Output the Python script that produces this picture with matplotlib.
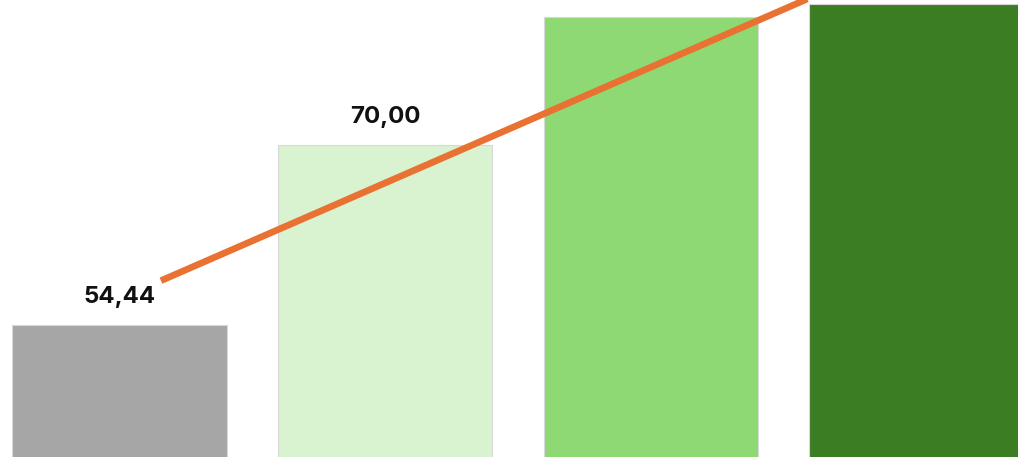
import matplotlib
matplotlib.use("Agg")
import matplotlib.pyplot as plt

categories = ["A", "B", "C", "D"]
values = [54.44, 70.00, 81.07, 82.16]
labels = ["54,44", "70,00", "81,07", "82,16"]
bar_colors = ["#A6A6A6", "#D9F2D0", "#8ED973", "#3B7D23"]
line_x = [0.156, 2.60]
line_y = [58.27, 82.73]

fig = plt.figure(figsize=(10.18, 4.57), dpi=100)
ax = fig.add_axes([0, 0, 1, 1])
x = list(range(len(categories)))
ax.bar(x, values, width=0.807, color=bar_colors, edgecolor="#d8d8d8", linewidth=0.8, zorder=2)
ax.plot(line_x, line_y, color="#E97132", linewidth=4.8, solid_capstyle="butt", zorder=3)
for xi, v, lab in zip(x, values, labels):
    ax.annotate(lab, (xi, v), xytext=(0, 15.8), textcoords="offset points",
                ha="center", va="baseline", fontsize=17.3, fontweight="bold",
                family=["Inter", "DejaVu Sans"], color="#111111", zorder=4)
ax.set_xlim(-0.4498, 3.3817)
ax.set_ylim(43.03, 82.53)
ax.axis("off")
fig.savefig("out.png", dpi=100)
